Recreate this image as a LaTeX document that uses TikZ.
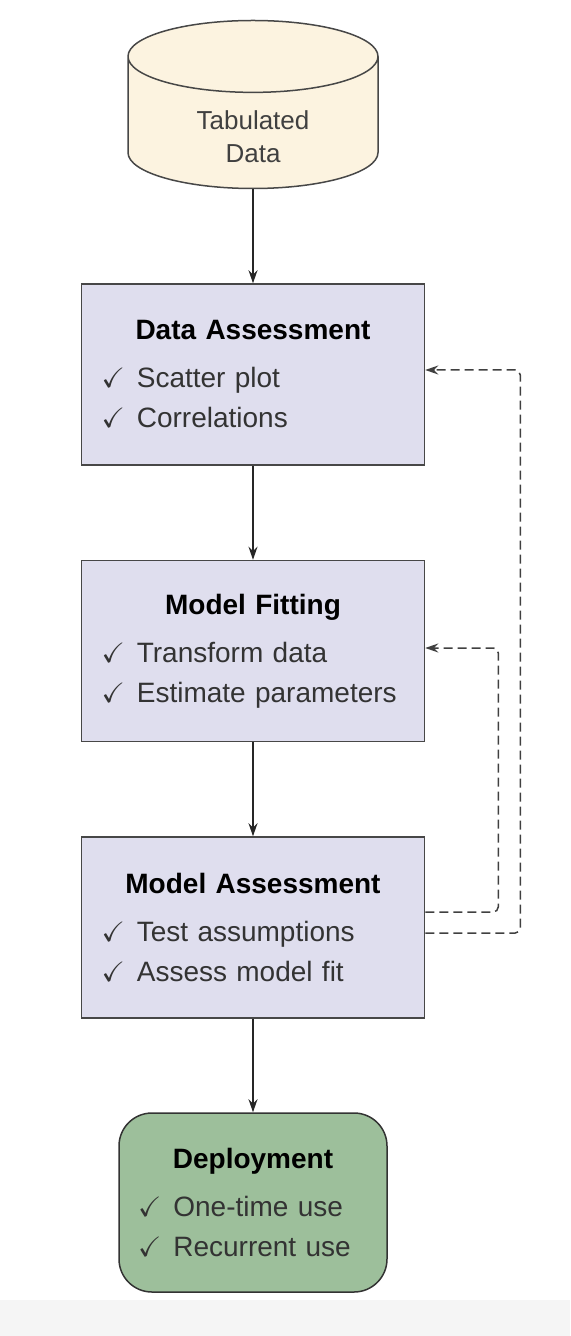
\documentclass[tikz,border=0pt]{standalone}
\usepackage{amssymb}
\usepackage{fontspec}
\setmainfont{Liberation Sans}
\usetikzlibrary{arrows.meta,positioning,shapes.geometric}

\definecolor{boxfill}{HTML}{DFDEEE}
\definecolor{dbfill}{HTML}{FCF3E0}
\definecolor{deployfill}{HTML}{9DBF9B}
\definecolor{edge}{HTML}{474747}

\newcommand{\tick}{$\checkmark$\hspace{6pt}}
\newcommand{\boxhead}[1]{\makebox[\linewidth][c]{\color{black}\bfseries #1}}
\newcommand{\dbline}[1]{\raisebox{-4pt}[\height][\depth]{#1}}

\begin{document}
\begin{tikzpicture}[
		x=0.5pt, y=-0.5pt,
		>={Stealth[length=6.5pt,width=4.5pt]},
		% Styles
		database/.style={cylinder, shape border rotate=90, aspect=0.57, draw=edge, fill=dbfill, line width=0.75pt, minimum width=125pt, minimum height=84pt, text depth=-8pt, font=\fontsize{13}{16.5}\selectfont, text=black!75, align=center},
		stage/.style={rectangle, draw=edge, fill=boxfill, line width=0.75pt, minimum width=171.5pt, minimum height=90.5pt, inner xsep=10pt, text width=151.5pt, align=left, font=\fontsize{14}{20}\selectfont, text=black!80},
		deploy/.style={stage, fill=deployfill, draw=black!80, rounded corners=16.5pt, minimum width=134pt, minimum height=89.5pt, inner xsep=9.5pt, text width=115pt},
		flow/.style={->, draw=black!85, line width=0.6pt},
		feedback/.style={->, draw=black!75, line width=0.75pt, dash pattern=on 4.5pt off 2.5pt, rounded corners=2.5pt}
	]

	% --- 1. CANVAS ---
	\useasboundingbox (0,0) rectangle (570,1336);
	\fill[black!4] (0,1300) rectangle (570,1336);

	% --- 2. THE STAGES ---
	\node[database, anchor=shape center] (data) at (253,104.5) {\dbline{Tabulated}\\\dbline{Data}};
	\node[stage] (dassess) at (253,374.5) {\boxhead{Data Assessment}\\[4pt]
		\tick Scatter plot\\ \tick Correlations};
	\node[stage] (fit) at (253,651) {\boxhead{Model Fitting}\\[4pt]
		\tick Transform data\\ \tick Estimate parameters};
	\node[stage] (massess) at (253,927.5) {\boxhead{Model Assessment}\\[4pt]
		\tick Test assumptions\\ \tick Assess model fit};
	\node[deploy] (deploy) at (253,1202.5) {\boxhead{Deployment}\\[4pt]
		\tick One-time use\\ \tick Recurrent use};

	% --- 3. MAIN FLOW ---
	\draw[flow] (data) -- (dassess);
	\draw[flow] (dassess) -- (fit);
	\draw[flow] (fit) -- (massess);
	\draw[flow] (massess) -- (deploy);

	% --- 4. FEEDBACK LOOPS (dashed) ---
	\draw[feedback] ([yshift=7.75pt]massess.east) -- ++(36.5pt,0) |- ([yshift=1.5pt]fit.east);
	\draw[feedback] ([yshift=-2.75pt]massess.east) -- ++(47.5pt,0) |- ([yshift=2.25pt]dassess.east);

\end{tikzpicture}
\end{document}
